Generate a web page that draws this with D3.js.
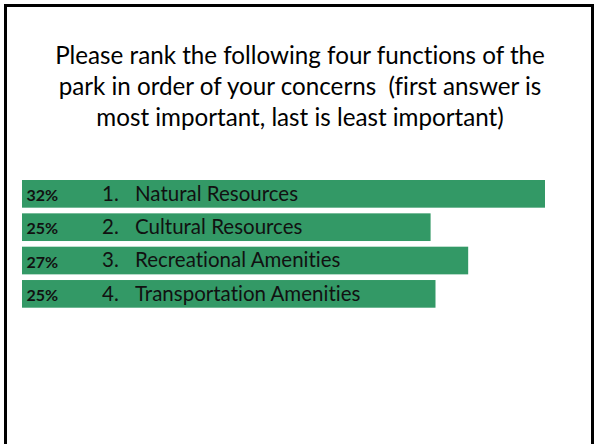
<!DOCTYPE html>
<html>
<head>
<meta charset="utf-8">
<script src="https://cdn.jsdelivr.net/npm/d3@7"></script>
<style>
  body { margin: 0; background: #fff; }
  svg { display: block; font-family: Lato, "Open Sans", sans-serif; font-variant-ligatures: none; }
</style>
</head>
<body>
<svg class="chart"></svg>
<script>
// Data
var ranks = ["1.", "2.", "3.", "4."];
var functions = ["Natural Resources", "Cultural Resources", "Recreational Amenities", "Transportation Amenities"];
var values = [32, 25, 27.3, 25.3]; // bar lengths
var pctLabels = ["32%", "25%", "27%", "25%"];
var titleLines = [
    "Please rank the following four functions of the",
    "park in order of your concerns  (first answer is",
    "most important, last is least important)"
];

var W = 594, H = 444;

var svg = d3.select(".chart")
    .attr("width", W)
    .attr("height", H);

// slide frame
svg.append("rect")
    .attr("x", 5.5)
    .attr("y", 5.5)
    .attr("width", 587)
    .attr("height", 500)
    .attr("fill", "none")
    .attr("stroke", "#000")
    .attr("stroke-width", 3);

// Title
svg.append("text")
    .attr("text-anchor", "middle")
    .attr("font-size", 24.2)
    .attr("fill", "#000")
    .style("white-space", "pre")
    .selectAll("tspan")
    .data(titleLines)
    .enter().append("tspan")
    .attr("x", 300)
    .attr("y", function (d, i) { return 64 + i * 31; })
    .text(function (d) { return d; });

// Scales
var x = d3.scaleLinear()
    .domain([0, 32])
    .range([22, 545]);

var y = d3.scaleBand()
    .domain(functions)
    .range([180, 307.7])
    .paddingInner(0.17)
    .paddingOuter(0);

var rows = functions.map(function (f, i) {
    return { name: f, rank: ranks[i], value: values[i], pct: pctLabels[i] };
});

// Bars
svg.selectAll(".bar")
    .data(rows)
    .enter().append("rect")
    .attr("class", "bar")
    .attr("x", x(0))
    .attr("y", function (d) { return y(d.name); })
    .attr("width", function (d) { return x(d.value) - x(0); })
    .attr("height", y.bandwidth())
    .attr("fill", "#339966");

// Percent labels
svg.selectAll(".pct")
    .data(rows)
    .enter().append("text")
    .attr("class", "pct")
    .attr("x", 26.5)
    .attr("y", function (d) { return y(d.name) + 21; })
    .attr("font-size", 16)
    .attr("font-weight", "bold")
    .attr("fill", "#111")
    .text(function (d) { return d.pct; });

// Rank numbers
svg.selectAll(".rank")
    .data(rows)
    .enter().append("text")
    .attr("class", "rank")
    .attr("x", 102)
    .attr("y", function (d) { return y(d.name) + 20.5; })
    .attr("font-size", 20.5)
    .attr("fill", "#111")
    .text(function (d) { return d.rank; });

// Function names
svg.selectAll(".name")
    .data(rows)
    .enter().append("text")
    .attr("class", "name")
    .attr("x", 135)
    .attr("y", function (d) { return y(d.name) + 20.5; })
    .attr("font-size", 20.5)
    .attr("fill", "#111")
    .text(function (d) { return d.name; });
</script>
</body>
</html>
